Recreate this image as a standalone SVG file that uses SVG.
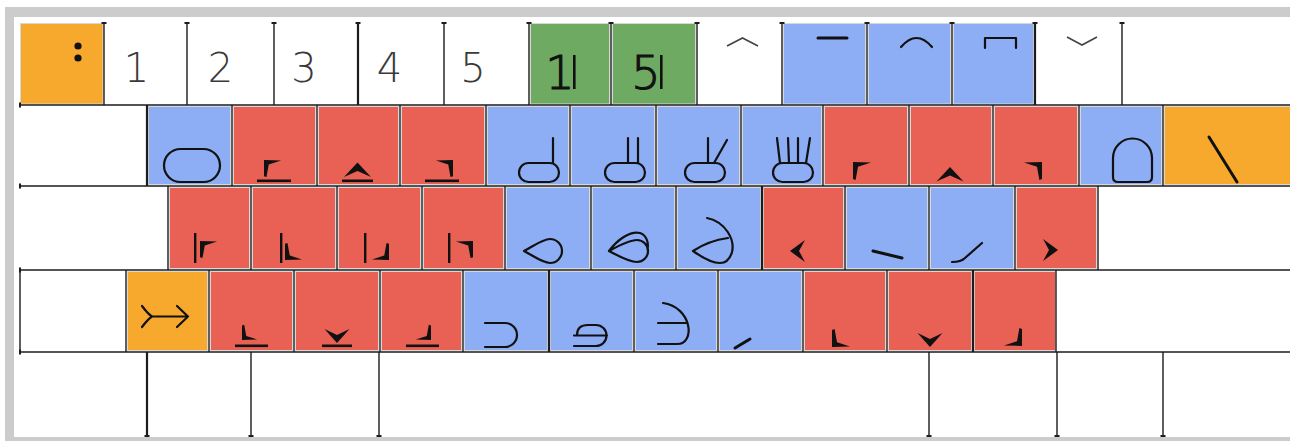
<svg xmlns="http://www.w3.org/2000/svg" xmlns:xlink="http://www.w3.org/1999/xlink" width="1290" height="441" viewBox="0 0 1290 441">
<style>
.or{fill:#F6A92D;stroke:#d8d8d8;stroke-width:1}
.rd{fill:#E86154;stroke:#d8d8d8;stroke-width:1}
.bl{fill:#8DADF4;stroke:#d8d8d8;stroke-width:1}
.gr{fill:#6FAA63;stroke:#d8d8d8;stroke-width:1}
.ln{fill:none;stroke:#1c1c1c;stroke-width:1.4}
.lnt{fill:none;stroke:#1c1c1c;stroke-width:2.2}
.tk{fill:#1c1c1c}
.g{fill:#111}
.s{fill:none;stroke:#111;stroke-width:2.2;stroke-linecap:round;stroke-linejoin:round}
.s3{fill:none;stroke:#111;stroke-width:3;stroke-linecap:round}
.ch{fill:none;stroke:#444;stroke-width:1.6}
.dg{font-family:"DejaVu Sans ExtraLight","DejaVu Sans","Liberation Sans",sans-serif;font-weight:200;font-size:40px;fill:#3a3a3a;text-anchor:middle}
.dk{font-family:"DejaVu Sans ExtraLight","DejaVu Sans","Liberation Sans",sans-serif;font-weight:200;font-size:46px;fill:#111;stroke:#111;stroke-width:1.1;text-anchor:middle}
</style>
<defs>
<path id="cw" d="M0,0 L18,0.6 L5,4.8 L2.6,18 L0,17 Z"/>
<path id="caret" d="M0,0 L13.5,14.5 L0,8.5 L-13.5,14.5 Z"/>
<path id="vdn" d="M-12.5,0 L0,6 L12.5,0 L0,14 Z"/>
<path id="arl" d="M0,0 L15,-11 L9,0 L15,11 Z"/>
</defs>
<rect x="0" y="0" width="1290" height="441" fill="#ffffff"/>
<rect x="5" y="7" width="1285" height="434" fill="#cccccc"/>
<rect x="14" y="17" width="1276" height="420" fill="#ffffff"/>

<!-- Row 1 -->
<g id="key-colon"><rect class="or" x="20.5" y="23.5" width="82.5" height="80.5"/><circle class="g" cx="78" cy="46" r="3.6"/><circle class="g" cx="78" cy="58" r="3.6"/></g>
<g id="key-1"><text class="dg" x="136.5" y="82">1</text></g>
<g id="key-2"><text class="dg" x="220.5" y="82">2</text></g>
<g id="key-3"><text class="dg" x="304" y="82">3</text></g>
<g id="key-4"><text class="dg" x="389.5" y="82">4</text></g>
<g id="key-5"><text class="dg" x="473" y="82">5</text></g>
<g id="key-1bar"><rect class="gr" x="530.5" y="23.5" width="79" height="80.5"/><text class="dk" x="560" y="89">1</text><rect class="g" x="573" y="55" width="2.6" height="34"/></g>
<g id="key-5bar"><rect class="gr" x="612.5" y="23.5" width="83" height="80.5"/><text class="dk" x="646" y="89">5</text><rect class="g" x="660" y="55" width="2.6" height="34"/></g>
<g id="key-up"><path class="ch" d="M727,46 L742.5,38 L758,46"/></g>
<g id="key-bar"><rect class="bl" x="783.5" y="23.5" width="82" height="80.5"/><path class="s3" d="M818,38 H847"/></g>
<g id="key-arc"><rect class="bl" x="868.5" y="23.5" width="82" height="80.5"/><path class="s" d="M901,47 Q916.5,29 932,47"/></g>
<g id="key-box"><rect class="bl" x="953.5" y="23.5" width="80" height="80.5"/><path class="s" d="M985,48 V38 H1016 V48"/></g>
<g id="key-down"><path class="ch" d="M1067,37 L1082,45 L1097,37"/></g>

<!-- Row 2 -->
<g id="key-fist"><rect class="bl" x="148.5" y="106.5" width="82" height="78"/><rect class="s" x="164" y="149" width="56" height="33" rx="16.5"/></g>
<g id="key-r2a"><rect class="rd" x="233.5" y="106.5" width="82" height="78"/><use href="#cw" xlink:href="#cw" class="g" transform="translate(264,160) scale(0.95)"/><rect class="g" x="257" y="179.5" width="34" height="2.6"/></g>
<g id="key-r2b"><rect class="rd" x="318.5" y="106.5" width="80" height="78"/><use href="#caret" xlink:href="#caret" class="g" transform="translate(357.5,162.5)"/><rect class="g" x="342" y="179.5" width="31" height="2.6"/></g>
<g id="key-r2c"><rect class="rd" x="401.5" y="106.5" width="83" height="78"/><use href="#cw" xlink:href="#cw" class="g" transform="translate(453,160) scale(-0.95,0.95)"/><rect class="g" x="425" y="179.5" width="34" height="2.6"/></g>
<g id="key-h1"><rect class="bl" x="487.5" y="106.5" width="81" height="78"/><rect class="s" x="519" y="163" width="40" height="19" rx="9.5"/><path class="s" d="M553,163 V138"/></g>
<g id="key-h2"><rect class="bl" x="571.5" y="106.5" width="83" height="78"/><rect class="s" x="605" y="163" width="40" height="19" rx="9.5"/><path class="s" d="M628,163 V138 M638,163 V138"/></g>
<g id="key-h3"><rect class="bl" x="657.5" y="106.5" width="82" height="78"/><rect class="s" x="685" y="163" width="40" height="19" rx="9.5"/><path class="s" d="M708,163 V138 M714,163 L727,140"/></g>
<g id="key-h4"><rect class="bl" x="742.5" y="106.5" width="79" height="78"/><rect class="s" x="773" y="163" width="40" height="19" rx="9.5"/><path class="s" d="M780,163 L777,138 M789,163 L788,138 M798,163 V138 M806,163 L810,138"/></g>
<g id="key-r2d"><rect class="rd" x="824.5" y="106.5" width="83" height="78"/><use href="#cw" xlink:href="#cw" class="g" transform="translate(853,162)"/></g>
<g id="key-r2e"><rect class="rd" x="910.5" y="106.5" width="81" height="78"/><use href="#caret" xlink:href="#caret" class="g" transform="translate(950,167)"/></g>
<g id="key-r2f"><rect class="rd" x="994.5" y="106.5" width="83" height="78"/><use href="#cw" xlink:href="#cw" class="g" transform="translate(1042,162) scale(-1,1)"/></g>
<g id="key-arch"><rect class="bl" x="1080.5" y="106.5" width="81" height="78"/><path class="s" d="M1113,177 V158 A19.5,19.5 0 0 1 1152,158 V177 Q1152,182 1147,182 H1118 Q1113,182 1113,177 Z"/></g>
<g id="key-backslash"><rect class="or" x="1164.5" y="106.5" width="126" height="78"/><path class="s3" d="M1209,137 L1237,182"/></g>

<!-- Row 3 -->
<g id="key-r3a"><rect class="rd" x="169.5" y="187.5" width="80" height="81"/><rect class="g" x="194" y="233" width="2.4" height="30"/><use href="#cw" xlink:href="#cw" class="g" transform="translate(200,241) scale(0.95)"/></g>
<g id="key-r3b"><rect class="rd" x="252.5" y="187.5" width="83" height="81"/><rect class="g" x="280" y="233" width="2.4" height="30"/><use href="#cw" xlink:href="#cw" class="g" transform="translate(285,260) scale(0.95,-0.95)"/></g>
<g id="key-r3c"><rect class="rd" x="338.5" y="187.5" width="82" height="81"/><rect class="g" x="364" y="233" width="2.4" height="30"/><use href="#cw" xlink:href="#cw" class="g" transform="translate(389,260) scale(-0.95,-0.95)"/></g>
<g id="key-r3d"><rect class="rd" x="423.5" y="187.5" width="80" height="81"/><rect class="g" x="448" y="233" width="2.4" height="30"/><use href="#cw" xlink:href="#cw" class="g" transform="translate(473,241) scale(-0.95,0.95)"/></g>
<g id="key-drop1"><rect class="bl" x="506.5" y="187.5" width="83" height="81"/><path class="s" d="M524,251 C535,245 543,239 550,239 A12,12 0 0 1 550,263 C543,263 535,257 524,251 Z"/></g>
<g id="key-drop2"><rect class="bl" x="592.5" y="187.5" width="82" height="81"/><path class="s" d="M609,251 C620,245 630,240 637,240 A11,11 0 0 1 637,262 C630,262 620,257 609,251 Z M609,251 C618,239 630,231 640,233 C646,235 649,242 647.5,249"/></g>
<g id="key-drop3"><rect class="bl" x="677.5" y="187.5" width="83" height="81"/><path class="s" d="M707,218 C726,222 735,240 732,252 C730,259 726,263 720,263 C710,263 700,256 693,251 C702,245 713,240 728,238"/></g>
<g id="key-left"><rect class="rd" x="763.5" y="187.5" width="80" height="81"/><use href="#arl" xlink:href="#arl" class="g" transform="translate(790,251)"/></g>
<g id="key-dash"><rect class="bl" x="846.5" y="187.5" width="81" height="81"/><path class="s3" d="M873,251 L902,258"/></g>
<g id="key-hook"><rect class="bl" x="930.5" y="187.5" width="83" height="81"/><path class="s" d="M952,262 Q961,262 965,258 L982,243"/></g>
<g id="key-right"><rect class="rd" x="1016.5" y="187.5" width="80" height="81"/><use href="#arl" xlink:href="#arl" class="g" transform="translate(1058,250) scale(-1,1)"/></g>

<!-- Row 4 -->
<g id="key-arrow"><rect class="or" x="127.5" y="271.5" width="80" height="79"/><path class="s" d="M142,306 Q148,314 152,316.5 Q148,319 142,327 M152,316.5 H188 M177,306 L188,316.5 L177,327"/></g>
<g id="key-r4a"><rect class="rd" x="210.5" y="271.5" width="82" height="79"/><use href="#cw" xlink:href="#cw" class="g" transform="translate(242,340) scale(0.85,-0.85)"/><rect class="g" x="235" y="344.5" width="33" height="2.6"/></g>
<g id="key-r4b"><rect class="rd" x="295.5" y="271.5" width="83" height="79"/><use href="#vdn" xlink:href="#vdn" class="g" transform="translate(337,329)"/><rect class="g" x="322" y="344.5" width="30" height="2.6"/></g>
<g id="key-r4c"><rect class="rd" x="381.5" y="271.5" width="80" height="79"/><use href="#cw" xlink:href="#cw" class="g" transform="translate(431,340) scale(-0.85,-0.85)"/><rect class="g" x="406" y="344.5" width="33" height="2.6"/></g>
<g id="key-cup"><rect class="bl" x="464.5" y="271.5" width="83" height="79"/><path class="s" d="M485,323 H505 A12,12 0 0 1 505,347 H485"/></g>
<g id="key-ebar"><rect class="bl" x="550.5" y="271.5" width="82" height="79"/><path class="s" d="M574,346 H596 A10.5,10.5 0 0 0 596,325 H588 Q577,325 577,335 M574,335.5 H607"/></g>
<g id="key-bigcup"><rect class="bl" x="635.5" y="271.5" width="81" height="79"/><path class="s" d="M663,303 C692,307 696,344 677,344 H658 M658,323 H687"/></g>
<g id="key-tick"><rect class="bl" x="719.5" y="271.5" width="82" height="79"/><path class="s3" d="M735,348 L750,339"/></g>
<g id="key-r4d"><rect class="rd" x="804.5" y="271.5" width="81" height="79"/><use href="#cw" xlink:href="#cw" class="g" transform="translate(832,347) scale(1,-1)"/></g>
<g id="key-r4e"><rect class="rd" x="888.5" y="271.5" width="83" height="79"/><use href="#vdn" xlink:href="#vdn" class="g" transform="translate(930,333)"/></g>
<g id="key-r4f"><rect class="rd" x="974.5" y="271.5" width="81" height="79"/><use href="#cw" xlink:href="#cw" class="g" transform="translate(1022,346) scale(-1,-1)"/></g>

<!-- grid lines -->
<g id="connectors">
<path class="ln" d="M20,105 H1290 M20,186 H1290 M20,270 H1290 M20,352 H1290"/>
<path class="ln" d="M104,23 V105 M187,23 V105 M274,23 V105 M444,23 V105 M529,23 V105 M611,23 V105 M697,23 V105 M782,23 V105 M867,23 V105 M952,23 V105 M1122,23 V105"/>
<path class="lnt" d="M358,23 V105 M1035,23 V105"/>
<path class="ln" d="M232,105 V186 M317,105 V186 M400,105 V186 M486,105 V186 M570,105 V186 M656,105 V186 M741,105 V186 M823,105 V186 M909,105 V186 M993,105 V186 M1079,105 V186 M1163,105 V186"/>
<path class="lnt" d="M147,105 V186"/>
<path class="ln" d="M168,186 V270 M251,186 V270 M337,186 V270 M422,186 V270 M505,186 V270 M591,186 V270 M676,186 V270 M845,186 V270 M929,186 V270 M1015,186 V270 M1098,186 V270"/>
<path class="lnt" d="M762,186 V270"/>
<path class="ln" d="M20,270 V352 M126,270 V352 M209,270 V352 M294,270 V352 M380,270 V352 M463,270 V352 M634,270 V352 M718,270 V352 M803,270 V352 M887,270 V352 M1056,270 V352"/>
<path class="lnt" d="M549,270 V352 M973,270 V352"/>
<path class="ln" d="M251,352 V436 M379,352 V436 M929,352 V436 M1057,352 V436 M1163,352 V436"/>
<path class="lnt" d="M147,352 V436"/>
<g class="tk">
<rect x="101.5" y="22" width="5" height="2"/><rect x="184.5" y="22" width="5" height="2"/><rect x="271.5" y="22" width="5" height="2"/><rect x="355.5" y="22" width="5" height="2"/><rect x="441.5" y="22" width="5" height="2"/><rect x="526.5" y="22" width="5" height="2"/><rect x="608.5" y="22" width="5" height="2"/><rect x="694.5" y="22" width="5" height="2"/><rect x="779.5" y="22" width="5" height="2"/><rect x="864.5" y="22" width="5" height="2"/><rect x="949.5" y="22" width="5" height="2"/><rect x="1032.5" y="22" width="5" height="2"/><rect x="1119.5" y="22" width="5" height="2"/>
<rect x="19" y="102.5" width="2" height="5"/><rect x="19" y="183.5" width="2" height="5"/><rect x="19" y="267.5" width="2" height="5"/><rect x="19" y="349.5" width="2" height="5"/>
<rect x="144.5" y="435" width="5" height="2"/><rect x="248.5" y="435" width="5" height="2"/><rect x="376.5" y="435" width="5" height="2"/><rect x="926.5" y="435" width="5" height="2"/><rect x="1054.5" y="435" width="5" height="2"/><rect x="1160.5" y="435" width="5" height="2"/>
</g>
</g>
</svg>
